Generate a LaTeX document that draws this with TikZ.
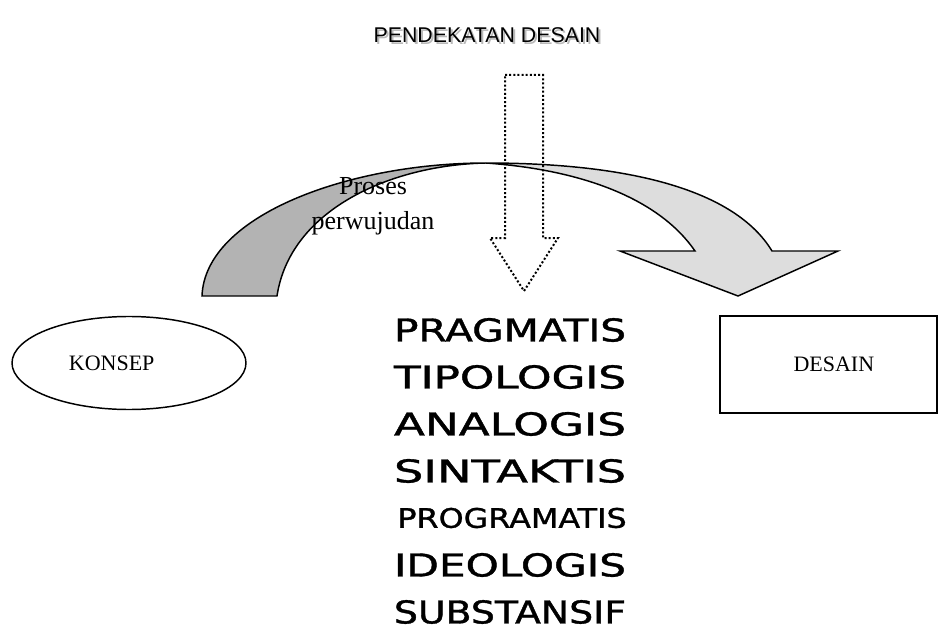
\documentclass[tikz,border=0pt]{standalone}
\usepackage{fontspec}
\setmainfont{Liberation Serif}
\newfontfamily\titlefont{Liberation Sans}
\newfontfamily\listfont[FakeBold=1.1]{DejaVu Sans}
\usepackage{graphicx}
\usetikzlibrary{shapes.geometric, positioning}
\definecolor{darkarc}{HTML}{B3B3B3}
\definecolor{lightarc}{HTML}{DDDDDD}
\tikzset{
	seriftext/.style={font=\fontsize{16.5}{20}\selectfont}
}
\tikzset{
	dotline/.style={line width=1.5pt, dash pattern=on 1.5pt off 1.6pt, line join=miter}
}
\newcommand{\bword}[3]{\resizebox{#1}{#2}{\listfont #3}}

\begin{document}
\begin{tikzpicture}[x=0.75pt, y=-0.75pt]
      \useasboundingbox (0,0) rectangle (939,631);
      % title with its shadow
      \node[font=\titlefont\fontsize{16}{19}\selectfont, text=gray!55, inner sep=0pt] at (489,37) {PENDEKATAN DESAIN};
      \node[font=\titlefont\fontsize{16}{19}\selectfont, inner sep=0pt] (title) at (487,35) {PENDEKATAN DESAIN};
      % curved arrow: dark tail, light head
      \filldraw[fill=darkarc, line width=1.1pt] (202,296) .. controls (205,215) and (350,163) .. (486,163)
        .. controls (390,165) and (290,210) .. (277,296) -- cycle;
      \filldraw[fill=lightarc, line width=1.1pt, line join=miter] (486,163) .. controls (630,163) and (735,190) .. (772,251)
        -- (838,251) -- (738,296) -- (620,251) -- (695,251) .. controls (660,200) and (585,170) .. (486,163) -- cycle;
      \node[seriftext, font=\fontsize{19.5}{26}\selectfont, align=center, inner sep=0pt] (proses) at (373,206) {Proses\\perwujudan};
      % dotted arrow down
      \draw[dotline] (505,75) -- (543,75) -- (543,238) -- (558,238) -- (524,291) -- (490,238) -- (505,238) -- cycle;
      % concept and design
      \node[draw, ellipse, line width=1.1pt, seriftext, minimum width=175.5pt, minimum height=69.75pt] (konsep) at (129,363) {KONSEP\hspace*{26pt}};
      \node[draw, rectangle, line width=1.5pt, seriftext, minimum width=162.75pt, minimum height=72.75pt] (desain) at (828.5,364.5) {\hspace*{8pt}DESAIN};
      % the approaches
      \foreach \w/\y in {PRAGMATIS/330, TIPOLOGIS/377, ANALOGIS/424, SINTAKTIS/471, IDEOLOGIS/565, SUBSTANSIF/612}
        \node[inner sep=0pt] (\w) at (510,\y) {\bword{174pt}{17.5pt}{\w}};
      \node[inner sep=0pt] (PROGRAMATIS) at (512,518) {\bword{172pt}{15pt}{PROGRAMATIS}};
\end{tikzpicture}
\end{document}
